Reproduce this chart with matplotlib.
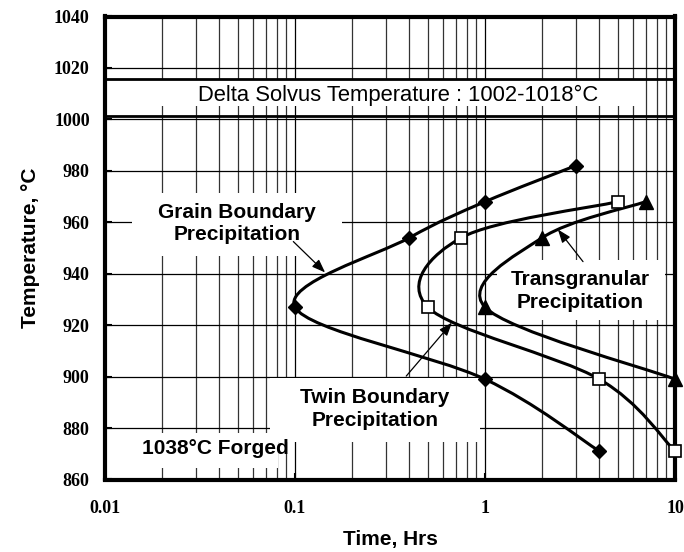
import numpy as np
import matplotlib
matplotlib.use("Agg")
import matplotlib.pyplot as plt
from matplotlib.path import Path
from matplotlib.patches import PathPatch, Rectangle

# data (time in hrs, temperature in C)
gb_time = [3, 1, 0.4, 0.1, 1, 4]
gb_temp = [982, 968, 954, 927, 899, 871]
tb_time = [5, 0.75, 0.5, 4, 10]
tb_temp = [968, 954, 927, 899, 871]
tg_time = [7, 2, 1, 10]
tg_temp = [968, 954, 927, 899]
solvus = [1001.5, 1015.8]

sans = "Liberation Sans"
serif = "Liberation Serif"


def smooth_path(xs, ys):
    # Excel-like smoothed line: Catmull-Rom -> cubic bezier in (log x, y)
    u = np.log10(xs)
    v = np.array(ys, float)
    p = np.column_stack([u, v])
    p = np.vstack([p[0], p, p[-1]])
    verts = [p[1]]
    codes = [Path.MOVETO]
    for i in range(1, len(p) - 2):
        c1 = p[i] + (p[i + 1] - p[i - 1]) / 6
        c2 = p[i + 1] - (p[i + 2] - p[i]) / 6
        verts += [c1, c2, p[i + 1]]
        codes += [Path.CURVE4] * 3
    verts = np.array(verts)
    verts[:, 0] = 10 ** verts[:, 0]
    return Path(verts, codes)


fig = plt.figure(figsize=(6.84, 5.52), dpi=100)
ax = fig.add_axes([105 / 684, 1 - 479.5 / 552, 570 / 684, 463 / 552])
ax.set_xscale("log")
ax.set_xlim(0.01, 10)
ax.set_ylim(860, 1040)
ax.set_yticks(np.arange(860, 1041, 20))
ax.set_xticks([0.01, 0.1, 1, 10])
ax.set_xticklabels(["0.01", "0.1", "1", "10"])
ax.grid(True, which="major", color="black", lw=0.9)
ax.grid(True, which="minor", axis="x", color="#333333", lw=0.9)
ax.set_axisbelow(True)
for s in ax.spines.values():
    s.set_linewidth(3)
ax.tick_params(which="both", direction="in", length=5, width=1.5)
ax.tick_params(axis="y", pad=11)
ax.tick_params(axis="x", pad=15)
ax.tick_params(which="minor", length=0)
for lab in ax.get_xticklabels() + ax.get_yticklabels():
    lab.set_fontfamily(serif)
    lab.set_fontweight("bold")
    lab.set_fontsize(13)

for t in solvus:
    ax.axhline(t, color="black", lw=2, zorder=2)

# white label panels covering the grid (axes fraction)
panels = [(0.0, 0.807, 0.939, 0.058),
          (0.047, 0.483, 0.369, 0.136),
          (0.289, 0.081, 0.369, 0.138),
          (0.688, 0.344, 0.294, 0.130),
          (0.004, 0.025, 0.30, 0.075)]
for x0, y0, w, h in panels:
    ax.add_patch(Rectangle((x0, y0), w, h, transform=ax.transAxes, fc="white", ec="none",
                           zorder=1.5))

ax.text(0.515, 0.830, "Delta Solvus Temperature : 1002-1018\u00b0C", transform=ax.transAxes,
        ha="center", va="center", fontsize=15.8, family=sans, zorder=3)

for xs, ys in [(gb_time, gb_temp), (tb_time, tb_temp), (tg_time, tg_temp)]:
    ax.add_patch(PathPatch(smooth_path(xs, ys), fc="none", ec="black", lw=2.2, zorder=4))

lbl = dict(ha="center", va="center", fontsize=15, fontweight="bold", family=sans,
           linespacing=1.25, zorder=5, transform=ax.transAxes)
ax.text(0.2316, 0.553, "Grain Boundary\nPrecipitation", **lbl)
ax.text(0.4737, 0.152, "Twin Boundary\nPrecipitation", **lbl)
ax.text(0.8333, 0.407, "Transgranular\nPrecipitation", **lbl)
ax.text(0.193, 0.066, "1038\u00b0C Forged", **lbl)

arrow = dict(arrowstyle="-|>,head_length=0.8,head_width=0.3", color="black", lw=0.9,
             shrinkA=0, shrinkB=0)
ax.annotate("", xy=(0.144, 940.5), xytext=(0.098, 952.5), arrowprops=arrow, zorder=6)
ax.annotate("", xy=(2.42, 957.2), xytext=(3.28, 944.7), arrowprops=arrow, zorder=6)
ax.annotate("", xy=(0.67, 921.0), xytext=(0.385, 900.2), arrowprops=arrow, zorder=6)

ax.plot(gb_time, gb_temp, ls="none", marker="D", ms=7.5, mfc="black", mec="black", zorder=7)
ax.plot(tb_time, tb_temp, ls="none", marker="s", ms=8.5, mfc="white", mec="black", mew=1.2,
        zorder=7, clip_on=False)
ax.plot(tg_time, tg_temp, ls="none", marker="^", ms=9.5, mfc="black", mec="black", zorder=7,
        clip_on=False)

ax.set_xlabel("Time, Hrs", fontsize=15, fontweight="bold", family=sans, labelpad=9)
ax.set_ylabel("Temperature, \u00b0C", fontsize=15, fontweight="bold", family=sans, labelpad=10)

fig.savefig("out.png", dpi=100)
